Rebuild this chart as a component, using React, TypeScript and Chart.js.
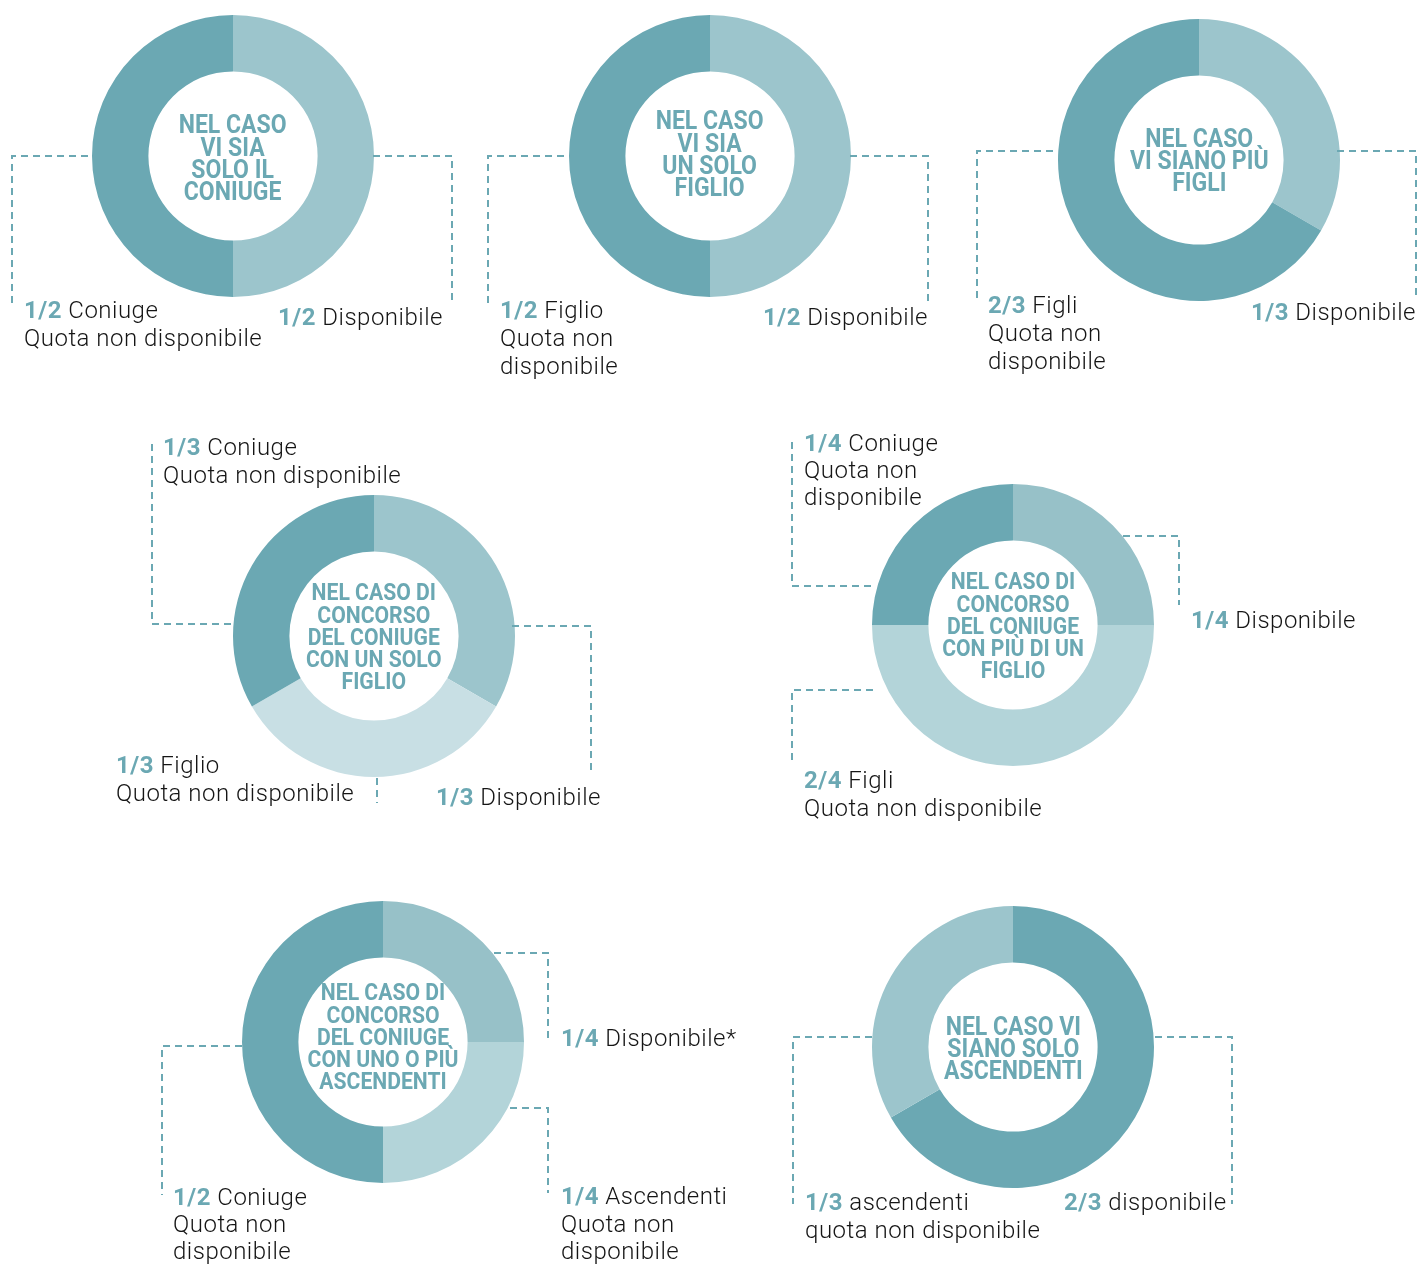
import React, { useEffect, useRef } from "react";
import { Chart, registerables } from "chart.js";

Chart.register(...registerables);

// ---------- data ----------
const soloConiugeLabels = ["Disponibile", "Coniuge"];
const soloConiugeValues = [1 / 2, 1 / 2];

const soloFiglioLabels = ["Disponibile", "Figlio"];
const soloFiglioValues = [1 / 2, 1 / 2];

const piuFigliLabels = ["Disponibile", "Figli"];
const piuFigliValues = [1 / 3, 2 / 3];

const coniugeFiglioLabels = ["Disponibile", "Figlio", "Coniuge"];
const coniugeFiglioValues = [1 / 3, 1 / 3, 1 / 3];

const coniugePiuFigliLabels = ["Disponibile", "Figli", "Coniuge"];
const coniugePiuFigliValues = [1 / 4, 2 / 4, 1 / 4];

const coniugeAscendentiLabels = ["Disponibile", "Ascendenti", "Coniuge"];
const coniugeAscendentiValues = [1 / 4, 1 / 4, 1 / 2];

const soloAscendentiLabels = ["Disponibile", "Ascendenti"];
const soloAscendentiValues = [2 / 3, 1 / 3];

// ---------- styles ----------
const TEAL = "#6BA8B3";
const LIGHT = "#9CC5CC";
const LIGHT2 = "#97C1C8";
const PALE = "#B3D4D9";
const PALEST = "#C8DFE4";
const TEXT = "#151515";
const R = 141;

type Seg = { b?: string; t: string };
type LabelSpec = { x: number; y: number; lines: Seg[]; lh?: number };

const donuts = [
  {
    cx: 233, cy: 156, labels: soloConiugeLabels, values: soloConiugeValues,
    colors: [LIGHT, TEAL], title: ["NEL CASO", "VI SIA", "SOLO IL", "CONIUGE"], fs: 25, dy: 3,
  },
  {
    cx: 710, cy: 156, labels: soloFiglioLabels, values: soloFiglioValues,
    colors: [LIGHT, TEAL], title: ["NEL CASO", "VI SIA", "UN SOLO", "FIGLIO"], fs: 25, dy: -1,
  },
  {
    cx: 1199, cy: 160, labels: piuFigliLabels, values: piuFigliValues,
    colors: [LIGHT, TEAL], title: ["NEL CASO", "VI SIANO PIÙ", "FIGLI"], fs: 25, dy: 1,
  },
  {
    cx: 374, cy: 636, labels: coniugeFiglioLabels, values: coniugeFiglioValues,
    colors: [LIGHT, PALEST, TEAL], title: ["NEL CASO DI", "CONCORSO", "DEL CONIUGE", "CON UN SOLO", "FIGLIO"], fs: 23, dy: 2,
  },
  {
    cx: 1013, cy: 625, labels: coniugePiuFigliLabels, values: coniugePiuFigliValues,
    colors: [LIGHT2, PALE, TEAL], title: ["NEL CASO DI", "CONCORSO", "DEL CONIUGE", "CON PIÙ DI UN", "FIGLIO"], fs: 23, dy: 2,
  },
  {
    cx: 383, cy: 1042, labels: coniugeAscendentiLabels, values: coniugeAscendentiValues,
    colors: [LIGHT2, PALE, TEAL], title: ["NEL CASO DI", "CONCORSO", "DEL CONIUGE", "CON UNO O PIÙ", "ASCENDENTI"], fs: 23, dy: -4,
  },
  {
    cx: 1013, cy: 1047, labels: soloAscendentiLabels, values: soloAscendentiValues,
    colors: [TEAL, LIGHT], title: ["NEL CASO VI", "SIANO SOLO", "ASCENDENTI"], fs: 25, dy: 2,
  },
];

const textLabels: LabelSpec[] = [
  { x: 24, y: 310, lines: [{ b: "1/2", t: " Coniuge" }, { t: "Quota non disponibile" }] },
  { x: 278, y: 317, lines: [{ b: "1/2", t: " Disponibile" }] },
  { x: 500, y: 310, lines: [{ b: "1/2", t: " Figlio" }, { t: "Quota non" }, { t: "disponibile" }] },
  { x: 763, y: 317, lines: [{ b: "1/2", t: " Disponibile" }] },
  { x: 988, y: 305, lines: [{ b: "2/3", t: " Figli" }, { t: "Quota non" }, { t: "disponibile" }] },
  { x: 1251, y: 312, lines: [{ b: "1/3", t: " Disponibile" }] },
  { x: 163, y: 447, lines: [{ b: "1/3", t: " Coniuge" }, { t: "Quota non disponibile" }] },
  { x: 116, y: 765, lines: [{ b: "1/3", t: " Figlio" }, { t: "Quota non disponibile" }] },
  { x: 436, y: 797, lines: [{ b: "1/3", t: " Disponibile" }] },
  { x: 804, y: 443, lh: 27, lines: [{ b: "1/4", t: " Coniuge" }, { t: "Quota non" }, { t: "disponibile" }] },
  { x: 1191, y: 620, lines: [{ b: "1/4", t: " Disponibile" }] },
  { x: 804, y: 780, lines: [{ b: "2/4", t: " Figli" }, { t: "Quota non disponibile" }] },
  { x: 561, y: 1038, lines: [{ b: "1/4", t: " Disponibile*" }] },
  { x: 561, y: 1197, lh: 27.5, lines: [{ b: "1/4", t: " Ascendenti" }, { t: "Quota non" }, { t: "disponibile" }] },
  { x: 173, y: 1197, lh: 27, lines: [{ b: "1/2", t: " Coniuge" }, { t: "Quota non" }, { t: "disponibile" }] },
  { x: 805, y: 1202, lines: [{ b: "1/3", t: " ascendenti" }, { t: "quota non disponibile" }] },
  { x: 1064, y: 1202, lines: [{ b: "2/3", t: " disponibile" }] },
];

const leaders: number[][][] = [
  [[12, 303], [12, 156], [93, 156]],
  [[373, 156], [452, 156], [452, 303]],
  [[488, 303], [488, 156], [569, 156]],
  [[850, 156], [928, 156], [928, 303]],
  [[977, 298], [977, 151], [1058, 151]],
  [[1337, 151], [1416, 151], [1416, 298]],
  [[152, 444], [152, 624], [233, 624]],
  [[512, 626], [591, 626], [591, 774]],
  [[377, 778], [377, 803]],
  [[792, 442], [792, 586], [873, 586]],
  [[1123, 536], [1179, 536], [1179, 605]],
  [[873, 690], [792, 690], [792, 765]],
  [[494, 953], [548, 953], [548, 1038]],
  [[510, 1108], [548, 1108], [548, 1193]],
  [[242, 1046], [162, 1046], [162, 1195]],
  [[872, 1037], [793, 1037], [793, 1204]],
  [[1155, 1037], [1232, 1037], [1232, 1204]],
];

const PAD = 2;

function Donut(props: { cx: number; cy: number; labels: string[]; values: number[]; colors: string[] }) {
  const ref = useRef<HTMLCanvasElement>(null);
  useEffect(() => {
    const chart = new Chart(ref.current as HTMLCanvasElement, {
      type: "doughnut",
      data: {
        labels: props.labels,
        datasets: [{ data: props.values, backgroundColor: props.colors, borderWidth: 0, hoverOffset: 0 }],
      },
      options: {
        responsive: false,
        animation: false,
        cutout: "60%",
        events: [],
        layout: { padding: PAD },
        plugins: { legend: { display: false }, tooltip: { enabled: false } },
      },
    });
    return () => chart.destroy();
  }, []);
  const size = 2 * R + 2 * PAD;
  return (
    <canvas
      ref={ref}
      width={size}
      height={size}
      style={{ position: "absolute", left: props.cx - R - PAD, top: props.cy - R - PAD, width: size, height: size }}
    />
  );
}

function CenterTitle(props: { cx: number; cy: number; lines: string[]; fs: number; dy: number }) {
  return (
    <div
      style={{
        position: "absolute",
        left: props.cx - 100,
        top: props.cy - 100 + props.dy,
        width: 200,
        height: 200,
        display: "flex",
        alignItems: "center",
        justifyContent: "center",
        pointerEvents: "none",
      }}
    >
      <div
        style={{
          transform: "scaleX(0.92)",
          textAlign: "center",
          fontFamily: "Roboto, 'DejaVu Sans', sans-serif",
          fontWeight: 700,
          fontSize: props.fs,
          lineHeight: "22.3px",
          color: TEAL,
          whiteSpace: "nowrap",
        }}
      >
        {props.lines.map((l, i) => (
          <div key={i}>{l}</div>
        ))}
      </div>
    </div>
  );
}

function TextLabel({ spec }: { spec: LabelSpec }) {
  const lh = spec.lh ?? 28;
  return (
    <div
      style={{
        position: "absolute",
        left: spec.x,
        top: spec.y - lh / 2,
        fontFamily: "Roboto, 'DejaVu Sans', sans-serif",
        fontWeight: 300,
        fontSize: 24,
        lineHeight: `${lh}px`,
        color: TEXT,
        whiteSpace: "nowrap",
        letterSpacing: "0.5px",
      }}
    >
      {spec.lines.map((ln, i) => (
        <div key={i}>
          {ln.b ? <span style={{ color: TEAL, fontWeight: 700 }}>{ln.b}</span> : null}
          {ln.t}
        </div>
      ))}
    </div>
  );
}

export default function App() {
  return (
    <div
      style={{
        position: "absolute",
        left: 0,
        top: 0,
        width: 1417,
        height: 1264,
        background: "#ffffff",
        overflow: "hidden",
      }}
    >
      {donuts.map((d, i) => (
        <Donut key={i} cx={d.cx} cy={d.cy} labels={d.labels} values={d.values} colors={d.colors} />
      ))}
      <svg
        width={1417}
        height={1264}
        style={{ position: "absolute", left: 0, top: 0, pointerEvents: "none" }}
      >
        {leaders.map((pts, i) => (
          <polyline
            key={i}
            points={pts.map((p) => p.join(",")).join(" ")}
            fill="none"
            stroke={TEAL}
            strokeWidth={2}
            strokeDasharray="7 5"
          />
        ))}
      </svg>
      {donuts.map((d, i) => (
        <CenterTitle key={i} cx={d.cx} cy={d.cy} lines={d.title} fs={d.fs} dy={d.dy} />
      ))}
      {textLabels.map((s, i) => (
        <TextLabel key={i} spec={s} />
      ))}
    </div>
  );
}
